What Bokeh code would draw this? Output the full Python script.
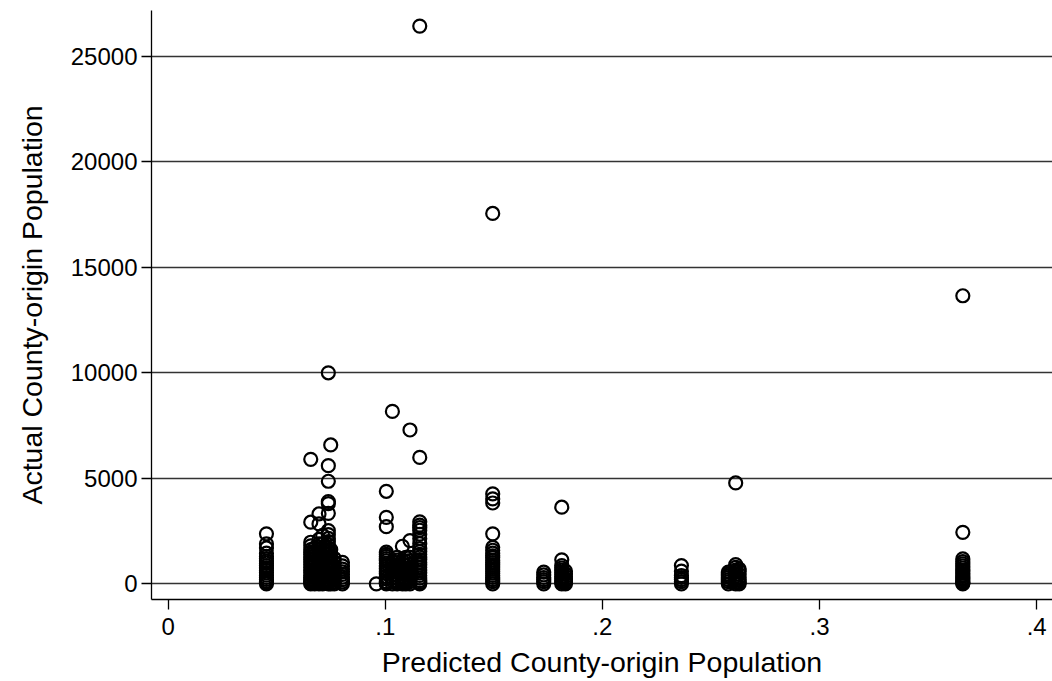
from bokeh.plotting import figure
from bokeh.models import Range1d, FixedTicker, CustomJSTickFormatter
from bokeh.embed import file_html
from bokeh.resources import INLINE

# Predicted County-origin Population (x) for each column of points
col_x = [0.0453, 0.0657, 0.0675, 0.0695, 0.0712, 0.0738, 0.0749, 0.0765, 0.0803,
         0.0959, 0.1005, 0.1033, 0.1055, 0.1079, 0.1095, 0.1114, 0.1159,
         0.1495, 0.1730, 0.1813, 0.1830, 0.2364, 0.2580, 0.2614, 0.2630, 0.3660]

# Actual County-origin Population (y) values for each column
col_y = [
    [2370, 1890, 1700, 1450, 1300, 1200, 1080, 980, 860, 750, 640, 520, 410, 300, 210, 120, 60, 0],
    [5900, 2920, 1970, 1800, 1620, 1500, 1400, 1270, 1150, 1030, 900, 780, 650, 530, 400, 300, 200, 120, 50, 0],
    [1700, 1500, 1350, 1180, 1000, 850, 700, 550, 400, 280, 150, 70, 0],
    [3310, 2840, 2110, 1900, 1750, 1600, 1450, 1300, 1100, 950, 800, 650, 500, 380, 250, 130, 50, 0],
    [2300, 1900, 1700, 1500, 1320, 1150, 980, 800, 620, 450, 300, 150, 60, 0],
    [10000, 5600, 4860, 3900, 3800, 3340, 2520, 2330, 2150, 2000, 1850, 1700, 1550, 1400, 1250,
     1100, 950, 800, 650, 500, 350, 200, 100, 0],
    [6580, 1620, 1450, 1300, 1120, 950, 780, 600, 450, 300, 150, 0],
    [1200, 1020, 850, 680, 500, 350, 200, 80, 0],
    [1020, 850, 700, 570, 450, 320, 200, 90, 0],
    [0],
    [4385, 3150, 2710, 1500, 1400, 1300, 1200, 1100, 980, 850, 720, 600, 480, 350, 230, 100, 40, 0],
    [8170, 1050, 900, 750, 600, 450, 300, 150, 0],
    [1250, 1120, 1000, 850, 700, 550, 400, 270, 150, 60, 0],
    [1780, 1100, 950, 800, 650, 500, 350, 200, 90, 0],
    [1250, 1080, 900, 720, 550, 400, 250, 120, 0],
    [7290, 2050, 1250, 1100, 920, 750, 580, 400, 250, 100, 0],
    [26430, 5990, 2940, 2780, 2660, 2540, 2350, 2150, 1900, 1670, 1530, 1400, 1270, 1150, 1020,
     900, 780, 650, 520, 400, 270, 150, 60, 0],
    [17550, 4260, 4025, 3830, 2370, 1730, 1590, 1450, 1330, 1250, 1120, 1000, 900, 800, 700,
     600, 500, 400, 300, 200, 100, 0],
    [550, 420, 300, 200, 100, 0],
    [3630, 1135, 866, 750, 650, 550, 450, 350, 250, 160, 80, 0],
    [600, 470, 350, 240, 150, 60, 0],
    [866, 600, 390, 300, 200, 100, 0],
    [550, 460, 380, 300, 200, 100, 0],
    [4780, 913, 780, 650, 550, 450, 350, 250, 160, 80, 0],
    [700, 600, 450, 300, 180, 80, 0],
    [13650, 2440, 1180, 1050, 950, 850, 750, 650, 580, 500, 420, 350, 270, 200, 130, 80, 30, 0],
]

x_ticks = [0, 0.1, 0.2, 0.3, 0.4]
y_ticks = [0, 5000, 10000, 15000, 20000, 25000]

xs, ys = [], []
for cx, cy in zip(col_x, col_y):
    for v in cy:
        xs.append(cx)
        ys.append(v)

FONT = "Liberation Sans"

p = figure(width=1052, height=681, output_backend="svg", toolbar_location=None,
           x_range=Range1d(-0.00764, 0.4073), y_range=Range1d(-743, 27168),
           min_border_left=151, min_border_right=0, min_border_top=10, min_border_bottom=82)
p.outline_line_color = None
p.background_fill_color = "white"
p.border_fill_color = "white"

p.xgrid.grid_line_color = None
p.ygrid.grid_line_color = "#333333"
p.ygrid.grid_line_width = 1.3
p.ygrid.ticker = FixedTicker(ticks=y_ticks)

p.xaxis.ticker = FixedTicker(ticks=x_ticks)
p.yaxis.ticker = FixedTicker(ticks=y_ticks)
p.xaxis.formatter = CustomJSTickFormatter(code="""
    if (tick == 0) return '0';
    return tick.toFixed(1).replace(/^0/, '');
""")

for ax in (p.xaxis[0], p.yaxis[0]):
    ax.axis_line_color = "black"
    ax.axis_line_width = 1.3
    ax.major_tick_line_color = "black"
    ax.major_tick_line_width = 1.3
    ax.major_tick_in = 0
    ax.major_tick_out = 10
    ax.minor_tick_line_color = None
    ax.major_label_text_font = FONT
    ax.major_label_text_font_size = "24px"
    ax.major_label_text_color = "black"
    ax.axis_label_text_font = FONT
    ax.axis_label_text_font_size = "28.5px"
    ax.axis_label_text_font_style = "normal"
    ax.axis_label_text_color = "black"

p.yaxis.major_label_orientation = "horizontal"
p.yaxis.major_label_standoff = 4
p.xaxis.major_label_standoff = 8
p.yaxis.axis_label = "Actual County-origin Population"
p.xaxis.axis_label = "Predicted County-origin Population"
p.yaxis.axis_label_standoff = 20
p.xaxis.axis_label_standoff = 8

p.scatter(xs, ys, marker="circle", size=13, fill_color=None,
          line_color="black", line_width=2.2)

open("out.html", "w").write(file_html(p, INLINE))
